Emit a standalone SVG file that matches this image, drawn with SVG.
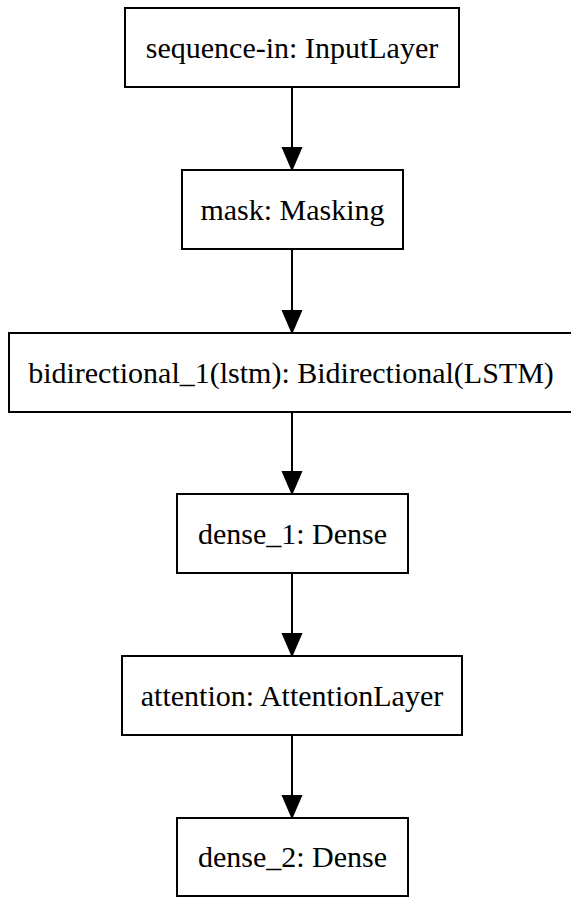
<svg xmlns="http://www.w3.org/2000/svg" width="571" height="898" viewBox="0 0 571 898">
  <style>
    .box { fill: #ffffff; stroke: #000000; stroke-width: 2; }
    .lbl { font-family: "Liberation Serif", "Times New Roman", serif; font-size: 30px; fill: #000000; text-anchor: middle; }
    .edge { stroke: #000000; stroke-width: 2; fill: none; }
    .head { fill: #000000; stroke: #000000; stroke-width: 2; }
  </style>
  <rect x="0" y="0" width="571" height="898" fill="#ffffff"/>

  <!-- connectors -->
  <g id="edges">
    <line class="edge" x1="292" y1="87" x2="292" y2="148"/>
    <polygon class="head" points="283,148 301,148 292,169"/>
    <line class="edge" x1="292" y1="249" x2="292" y2="311"/>
    <polygon class="head" points="283,311 301,311 292,332"/>
    <line class="edge" x1="292" y1="412" x2="292" y2="472"/>
    <polygon class="head" points="283,472 301,472 292,493"/>
    <line class="edge" x1="292" y1="573" x2="292" y2="634"/>
    <polygon class="head" points="283,634 301,634 292,655"/>
    <line class="edge" x1="292" y1="735" x2="292" y2="796"/>
    <polygon class="head" points="283,796 301,796 292,817"/>
  </g>

  <g id="sequence-in">
    <rect class="box" x="125" y="8" width="334" height="79"/>
    <text class="lbl" x="292" y="57.5">sequence-in: InputLayer</text>
  </g>
  <g id="mask">
    <rect class="box" x="182" y="170" width="221" height="79"/>
    <text class="lbl" x="292.5" y="219.5">mask: Masking</text>
  </g>
  <g id="bidirectional_1">
    <rect class="box" x="9" y="333" width="566" height="79"/>
    <text class="lbl" x="291" y="382.5">bidirectional_1(lstm): Bidirectional(LSTM)</text>
  </g>
  <g id="dense_1">
    <rect class="box" x="177" y="494" width="231" height="79"/>
    <text class="lbl" x="292.5" y="543.5">dense_1: Dense</text>
  </g>
  <g id="attention">
    <rect class="box" x="122" y="656" width="340" height="79"/>
    <text class="lbl" x="292" y="705.5">attention: AttentionLayer</text>
  </g>
  <g id="dense_2">
    <rect class="box" x="177" y="818" width="231" height="78"/>
    <text class="lbl" x="292.5" y="867">dense_2: Dense</text>
  </g>
</svg>
